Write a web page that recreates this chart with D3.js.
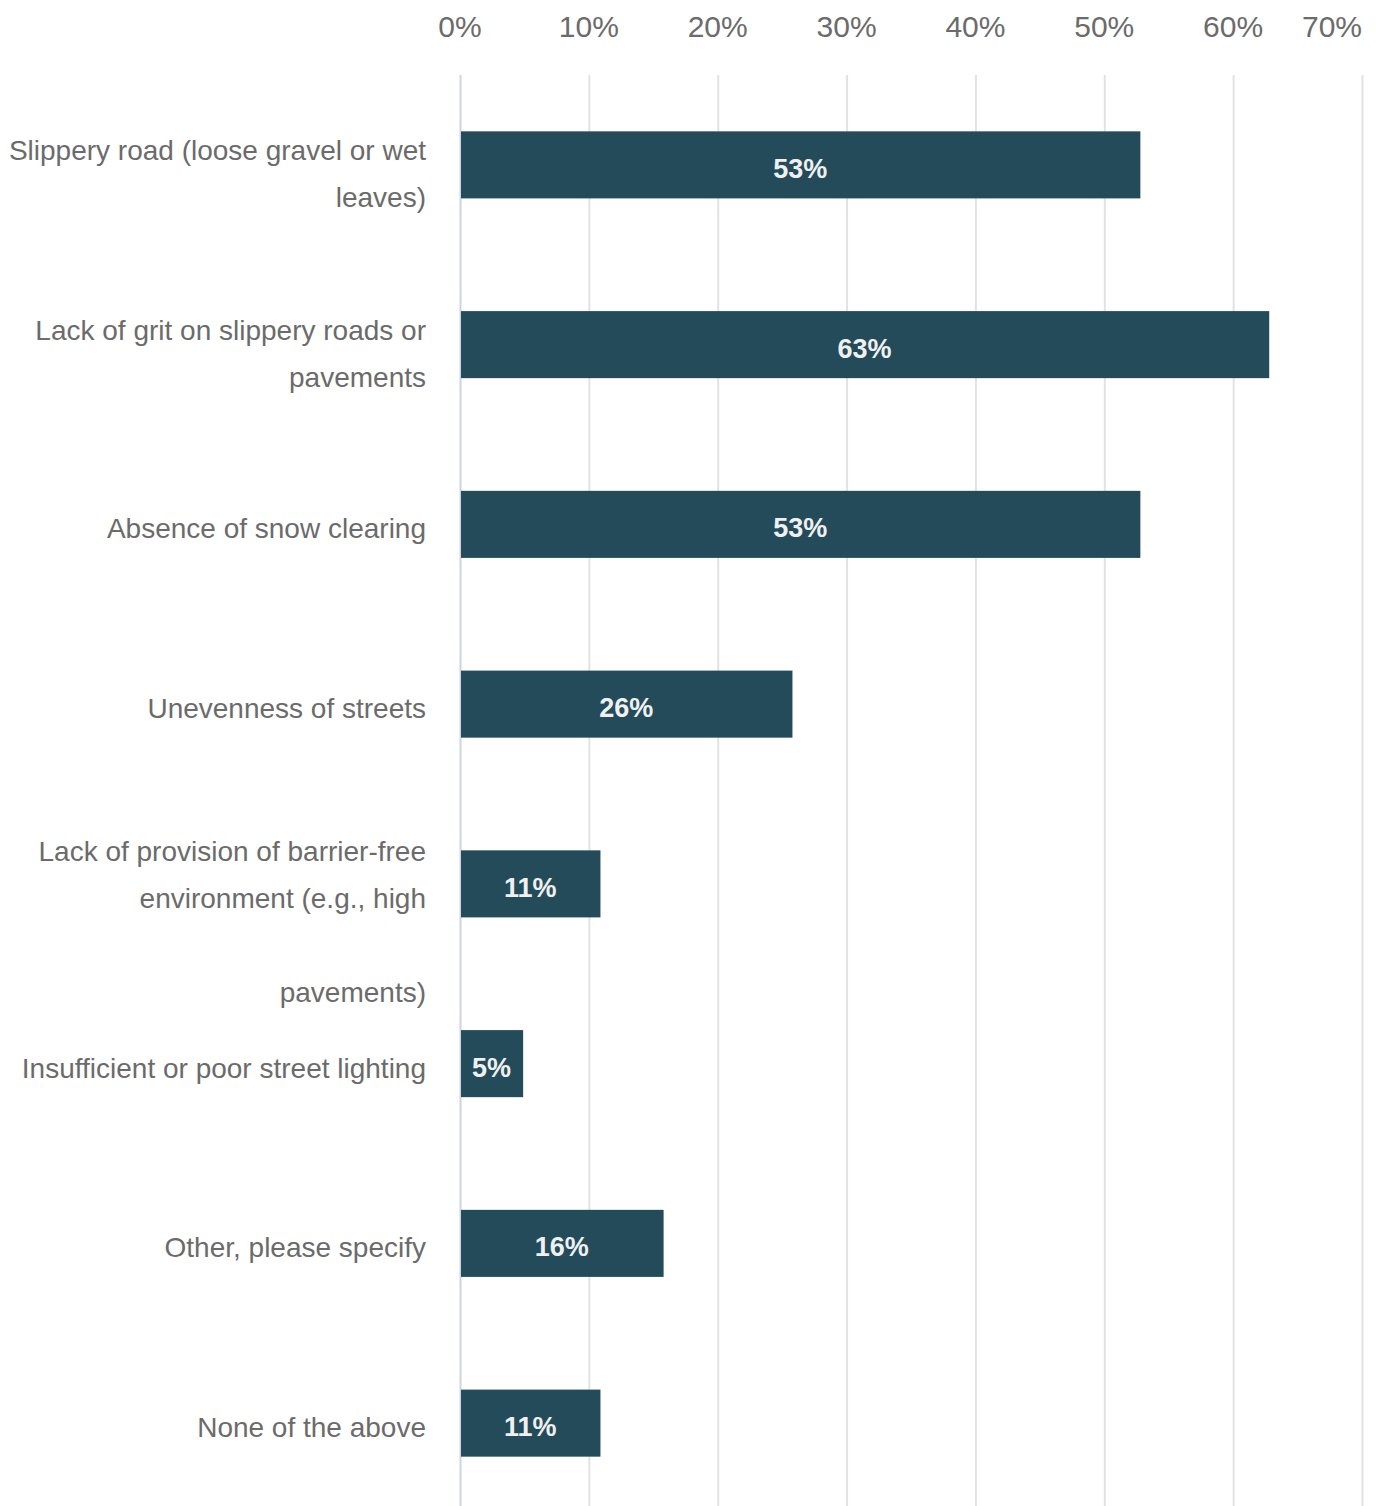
<!DOCTYPE html>
<html><head><meta charset="utf-8">
<script src="https://cdn.jsdelivr.net/npm/d3@7"></script>
<style>
html,body{margin:0;padding:0;background:#fff;}
svg{display:block;font-family:"Liberation Sans",Arial,sans-serif;}
</style></head>
<body>
<svg id="chart" width="1376" height="1506"></svg>
<script>
const categories = [
  ["Slippery road (loose gravel or wet", "leaves)"],
  ["Lack of grit on slippery roads or", "pavements"],
  ["Absence of snow clearing"],
  ["Unevenness of streets"],
  ["Lack of provision of barrier-free", "environment (e.g., high", "", "pavements)"],
  ["Insufficient or poor street lighting"],
  ["Other, please specify"],
  ["None of the above"]
];
const values = [52.8, 62.8, 52.8, 25.8, 10.9, 4.9, 15.8, 10.9];
const tickValues = [0, 10, 20, 30, 40, 50, 60, 70];

const svg = d3.select("#chart");
const x = d3.scaleLinear().domain([0, 70]).range([460, 1362]);
const y = d3.scaleBand().domain(d3.range(categories.length)).range([75, 1513]).paddingInner(0.627).paddingOuter(0.3135);

// gridlines
svg.append("g").selectAll("line").data(tickValues).join("line")
  .attr("x1", d => x(d) + 0.5).attr("x2", d => x(d) + 0.5)
  .attr("y1", 75).attr("y2", 1506)
  .attr("stroke", d => d === 0 ? "#c9d3ea" : "#e2e2e2").attr("stroke-width", 2);

// tick labels
svg.append("g").selectAll("text").data(tickValues).join("text")
  .attr("x", d => x(d))
  .attr("y", 37)
  .attr("text-anchor", (d, i) => i === tickValues.length - 1 ? "end" : "middle")
  .attr("font-size", 30).attr("fill", "#6b6b6b")
  .text(d => d + "%");

// bars
svg.append("g").selectAll("rect").data(values).join("rect")
  .attr("x", x(0) + 1).attr("y", (d, i) => y(i))
  .attr("width", d => x(d) - x(0) - 1).attr("height", y.bandwidth())
  .attr("fill", "#234b5a");

// value labels
svg.append("g").selectAll("text").data(values).join("text")
  .attr("x", d => (x(0) + x(d)) / 2)
  .attr("y", (d, i) => y(i) + y.bandwidth() / 2 + 13)
  .attr("text-anchor", "middle").attr("font-size", 27).attr("font-weight", "bold")
  .attr("fill", "#f0f0f0")
  .text(d => Math.round(d) + "%");

// category labels
const lineH = 47;
const cg = svg.append("g");
categories.forEach((lines, i) => {
  const n = lines.filter(l => l !== "").length;
  const c = y(i) + y.bandwidth() / 2;
  const t = cg.append("text").attr("text-anchor", "end").attr("font-size", 28).attr("fill", "#6b6b6b");
  lines.forEach((l, j) => {
    t.append("tspan").attr("x", 426).attr("y", c + 14 - (n - 1) * 18.5 + j * lineH).text(l);
  });
});
</script>
</body></html>
